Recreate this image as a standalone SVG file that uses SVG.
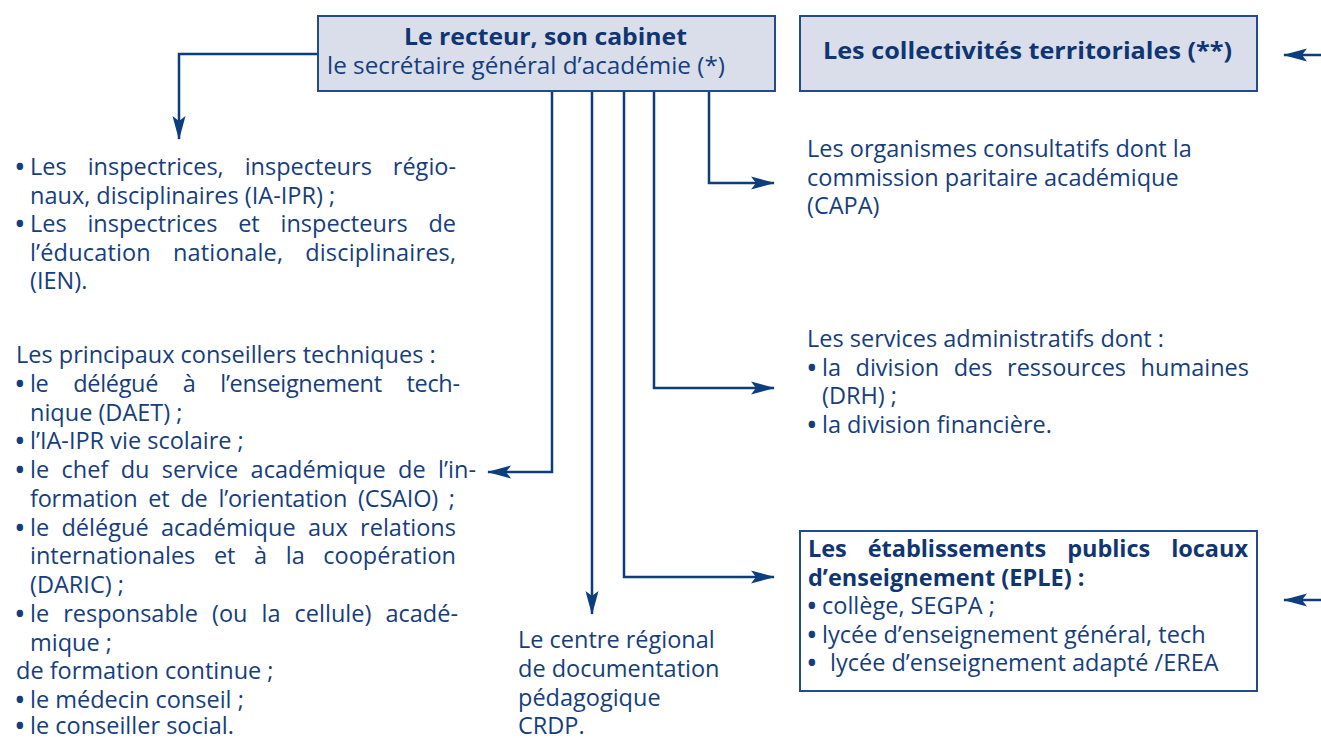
<svg xmlns="http://www.w3.org/2000/svg" width="1321" height="738" viewBox="0 0 1321 738">
  <defs>
    <style>
      .t { font-family: "Open Sans", "Noto Sans", sans-serif; font-size: 23.5px; fill: #163e7c; }
      .b { font-weight: 700; fill: #0f3572; }
      .bu { font-size: 31px; }
      .box { fill: #d9deea; stroke: #234b88; stroke-width: 2; }
      .frame { fill: #ffffff; stroke: #234b88; stroke-width: 2; }
      .ln { fill: none; stroke: #0c3d7d; stroke-width: 2.5; }
    </style>
    <marker id="ah" markerUnits="userSpaceOnUse" markerWidth="24" markerHeight="14" viewBox="0 0 24 14" refX="23" refY="7" orient="auto">
      <path d="M0,0.5 L24,7 L0,13.5 L5,7 Z" fill="#0c3d7d"/>
    </marker>
  </defs>

  <rect width="1321" height="738" fill="#ffffff"/>

  <!-- connectors -->
  <g id="connectors">
    <path class="ln" d="M318,54 H179 V139" marker-end="url(#ah)"/>
    <path class="ln" d="M709,91 V183 H774" marker-end="url(#ah)"/>
    <path class="ln" d="M654,91 V388 H774" marker-end="url(#ah)"/>
    <path class="ln" d="M624,91 V577 H774" marker-end="url(#ah)"/>
    <path class="ln" d="M592,91 V614" marker-end="url(#ah)"/>
    <path class="ln" d="M552,91 V472 H488" marker-end="url(#ah)"/>
    <path class="ln" d="M1321,55 H1284" marker-end="url(#ah)"/>
    <path class="ln" d="M1321,600 H1284" marker-end="url(#ah)"/>
  </g>

  <!-- rector and cabinet -->
  <g id="recteur">
    <rect class="box" x="318" y="16" width="457" height="75"/>
    <text class="t b" x="404" y="45" textLength="283" lengthAdjust="spacingAndGlyphs">Le recteur, son cabinet</text>
    <text class="t" x="327" y="74" textLength="398" lengthAdjust="spacingAndGlyphs">le secrétaire général d’académie (*)</text>
  </g>

  <!-- local authorities -->
  <g id="collectivites">
    <rect class="box" x="800" y="16" width="457" height="75"/>
    <text class="t b" x="823" y="59" textLength="409" lengthAdjust="spacingAndGlyphs">Les collectivités territoriales (**)</text>
  </g>

  <!-- inspectors: bullet tspan, then the line body (justified lines use word-spacing) -->
  <g id="inspecteurs">
    <text class="t" x="14" y="178"><tspan class="bu">•</tspan><tspan x="30" y="175" style="word-spacing:14.9px" textLength="426" lengthAdjust="spacing">Les inspectrices, inspecteurs régio-</tspan></text>
    <text class="t" x="30" y="203.5">naux, disciplinaires (IA-IPR) ;</text>
    <text class="t" x="14" y="235"><tspan class="bu">•</tspan><tspan x="30" y="232" style="word-spacing:14.6px" textLength="426" lengthAdjust="spacing">Les inspectrices et inspecteurs de</tspan></text>
    <text class="t" x="30" y="260.5" style="word-spacing:15.7px" textLength="426" lengthAdjust="spacing">l’éducation nationale, disciplinaires,</text>
    <text class="t" x="30" y="289">(IEN).</text>
  </g>

  <!-- technical advisers -->
  <g id="conseillers">
    <text class="t" x="16" y="363">Les principaux conseillers techniques :</text>
    <text class="t" x="14" y="394.75"><tspan class="bu">•</tspan><tspan x="30" y="391.75" style="word-spacing:19px" textLength="430" lengthAdjust="spacing">le délégué à l’enseignement tech-</tspan></text>
    <text class="t" x="30" y="420.5">nique (DAET) ;</text>
    <text class="t" x="14" y="452.25"><tspan class="bu">•</tspan><tspan x="30" y="449.25">l’IA-IPR vie scolaire ;</tspan></text>
    <text class="t" x="14" y="481"><tspan class="bu">•</tspan><tspan x="30" y="478" style="word-spacing:6px" textLength="446" lengthAdjust="spacing">le chef du service académique de l’in-</tspan></text>
    <text class="t" x="30" y="506.75" style="word-spacing:5px" textLength="425" lengthAdjust="spacing">formation et de l’orientation (CSAIO) ;</text>
    <text class="t" x="14" y="538.5"><tspan class="bu">•</tspan><tspan x="30" y="535.5" style="word-spacing:6.2px" textLength="426" lengthAdjust="spacing">le délégué académique aux relations</tspan></text>
    <text class="t" x="30" y="564.25" style="word-spacing:12.5px" textLength="426" lengthAdjust="spacing">internationales et à la coopération</text>
    <text class="t" x="30" y="593">(DARIC) ;</text>
    <text class="t" x="14" y="624.75"><tspan class="bu">•</tspan><tspan x="30" y="621.75" style="word-spacing:7.9px" textLength="428" lengthAdjust="spacing">le responsable (ou la cellule) acadé-</tspan></text>
    <text class="t" x="30" y="650.5">mique ;</text>
    <text class="t" x="16" y="679.25">de formation continue ;</text>
    <text class="t" x="14" y="711"><tspan class="bu">•</tspan><tspan x="30" y="708">le médecin conseil ;</tspan></text>
    <text class="t" x="14" y="737"><tspan class="bu">•</tspan><tspan x="30" y="734">le conseiller social.</tspan></text>
  </g>

  <!-- regional documentation centre -->
  <g id="crdp">
    <text class="t" x="518" y="648">Le centre régional</text>
    <text class="t" x="518" y="677">de documentation</text>
    <text class="t" x="518" y="705.5">pédagogique</text>
    <text class="t" x="518" y="733.5">CRDP.</text>
  </g>

  <!-- consultative bodies -->
  <g id="consultatifs">
    <text class="t" x="807" y="157">Les organismes consultatifs dont la</text>
    <text class="t" x="807" y="185.5">commission paritaire académique</text>
    <text class="t" x="807" y="214">(CAPA)</text>
  </g>

  <!-- administrative services -->
  <g id="services">
    <text class="t" x="807" y="347">Les services administratifs dont :</text>
    <text class="t" x="806" y="378.5"><tspan class="bu">•</tspan><tspan x="822" y="375.5" style="word-spacing:8.4px" textLength="427" lengthAdjust="spacing">la division des ressources humaines</tspan></text>
    <text class="t" x="822" y="404">(DRH) ;</text>
    <text class="t" x="806" y="435.5"><tspan class="bu">•</tspan><tspan x="822" y="432.5">la division financière.</tspan></text>
  </g>

  <!-- local public schools -->
  <g id="eple">
    <rect class="frame" x="800" y="531" width="457" height="160"/>
    <text class="t b" x="808" y="557" style="word-spacing:15px" textLength="440" lengthAdjust="spacing">Les établissements publics locaux</text>
    <text class="t b" x="808" y="585.5">d’enseignement (EPLE) :</text>
    <text class="t" x="806" y="617"><tspan class="bu">•</tspan><tspan x="822" y="614">collège, SEGPA ;</tspan></text>
    <text class="t" x="806" y="645.5"><tspan class="bu">•</tspan><tspan x="822" y="642.5">lycée d’enseignement général, tech</tspan></text>
    <text class="t" x="806" y="674"><tspan class="bu">•</tspan><tspan x="830" y="671">lycée d’enseignement adapté /EREA</tspan></text>
  </g>
</svg>
